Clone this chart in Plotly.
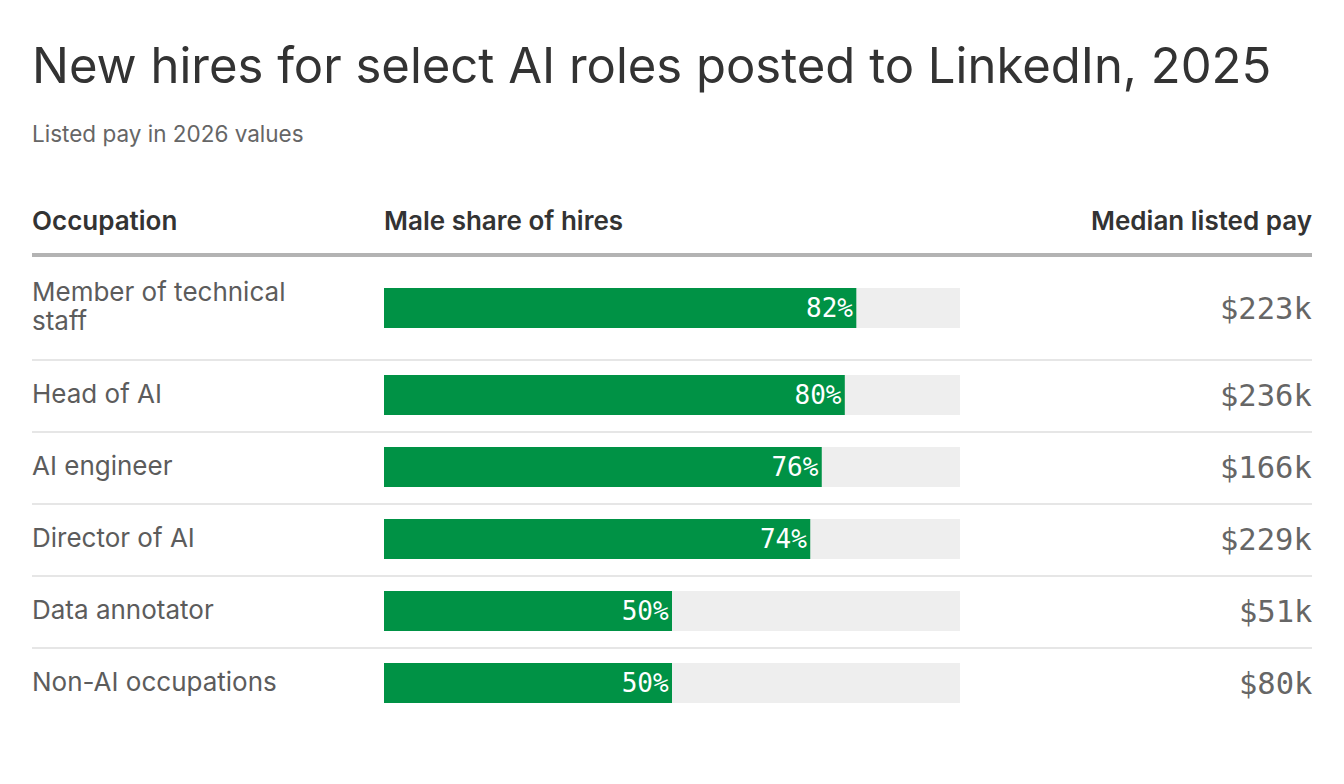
import plotly.graph_objects as go

occupations = ["Member of technical staff", "Head of AI", "AI engineer",
               "Director of AI", "Data annotator", "Non-AI occupations"]
occupation_lines = [["Member of technical", "staff"], ["Head of AI"], ["AI engineer"],
                    ["Director of AI"], ["Data annotator"], ["Non-AI occupations"]]
male_share = [82, 80, 76, 74, 50, 50]
median_pay = ["$223k", "$236k", "$166k", "$229k", "$51k", "$80k"]

OFF = 8  # page body margin
W, H = 1344 - OFF, 784 - OFF
SANS = "Inter, 'Noto Sans', sans-serif"
MONO = "'DejaVu Sans Mono', monospace"
PAD = 2  # annotation box padding


def px(v):
    return (v - OFF) / W


def py(v):
    return v - OFF


# row layout (pixel units on a reversed y axis)
top = 257
LINE_GAP = 29
heights = [72 + 30 * (len(lines) - 1) for lines in occupation_lines]
centers, seps = [], []
y = top
for h in heights:
    centers.append(py(y + h / 2))
    y += h
    seps.append(py(y + 1))
seps = seps[:-1]

fig = go.Figure()
fig.add_trace(go.Bar(
    y=centers, x=[100] * len(centers), orientation="h", width=40,
    marker=dict(color="#eeeeee", line=dict(width=0)), hoverinfo="skip", showlegend=False))
fig.add_trace(go.Bar(
    y=centers, x=male_share, orientation="h", width=40,
    marker=dict(color="#009245", line=dict(width=0)),
    text=[f"{v}%" for v in male_share], textposition="inside",
    insidetextanchor="end", textangle=0,
    textfont=dict(family=MONO, size=26, color="white"),
    showlegend=False))

ann = []
ann.append(dict(text="New hires for select AI roles posted to LinkedIn, 2025",
                x=px(32 - PAD), y=py(65), xref="paper", yref="y", xanchor="left",
                yanchor="middle", showarrow=False,
                font=dict(family=SANS, size=49, color="#333333")))
ann.append(dict(text="Listed pay in 2026 values",
                x=px(32 - PAD), y=py(133), xref="paper", yref="y", xanchor="left",
                yanchor="middle", showarrow=False,
                font=dict(family=SANS, size=22.5, color="#666666")))
for txt, xx, anchor in [("Occupation", 32 - PAD, "left"),
                        ("Male share of hires", 384 - PAD, "left"),
                        ("Median listed pay", 1312 + PAD, "right")]:
    ann.append(dict(text=txt, x=px(xx), y=py(220), xref="paper", yref="y", xanchor=anchor,
                    yanchor="middle", showarrow=False,
                    font=dict(family=SANS, size=26, color="#333333", weight=600)))
for lines, c, pay in zip(occupation_lines, centers, median_pay):
    n = len(lines)
    for i, line in enumerate(lines):
        ann.append(dict(text=line, x=px(32 - PAD), y=c + (i - (n - 1) / 2) * LINE_GAP - 2,
                        xref="paper", yref="y", xanchor="left",
                        yanchor="middle", align="left", showarrow=False,
                        font=dict(family=SANS, size=26, color="#5c5c5c")))
    ann.append(dict(text=pay, x=px(1312 + PAD), y=c, xref="paper", yref="y",
                    xanchor="right", yanchor="middle", showarrow=False,
                    font=dict(family=MONO, size=30.5, color="#666666")))

shapes = [dict(type="line", xref="paper", yref="y", x0=px(32), x1=px(1312),
               y0=py(255), y1=py(255), line=dict(color="#b3b3b3", width=4))]
for s in seps:
    shapes.append(dict(type="line", xref="paper", yref="y", x0=px(32), x1=px(1312),
                       y0=s, y1=s, line=dict(color="#e6e6e6", width=2)))

fig.update_layout(
    width=W, height=H, margin=dict(l=0, r=0, t=0, b=0),
    paper_bgcolor="white", plot_bgcolor="white", barmode="overlay",
    xaxis=dict(domain=[px(384), px(960)], range=[0, 100], visible=False, fixedrange=True),
    yaxis=dict(domain=[0, 1], range=[H, 0], visible=False, fixedrange=True),
    annotations=ann, shapes=shapes, uniformtext=dict(mode=False),
)
fig.write_html("out.html", config={"displayModeBar": False})
